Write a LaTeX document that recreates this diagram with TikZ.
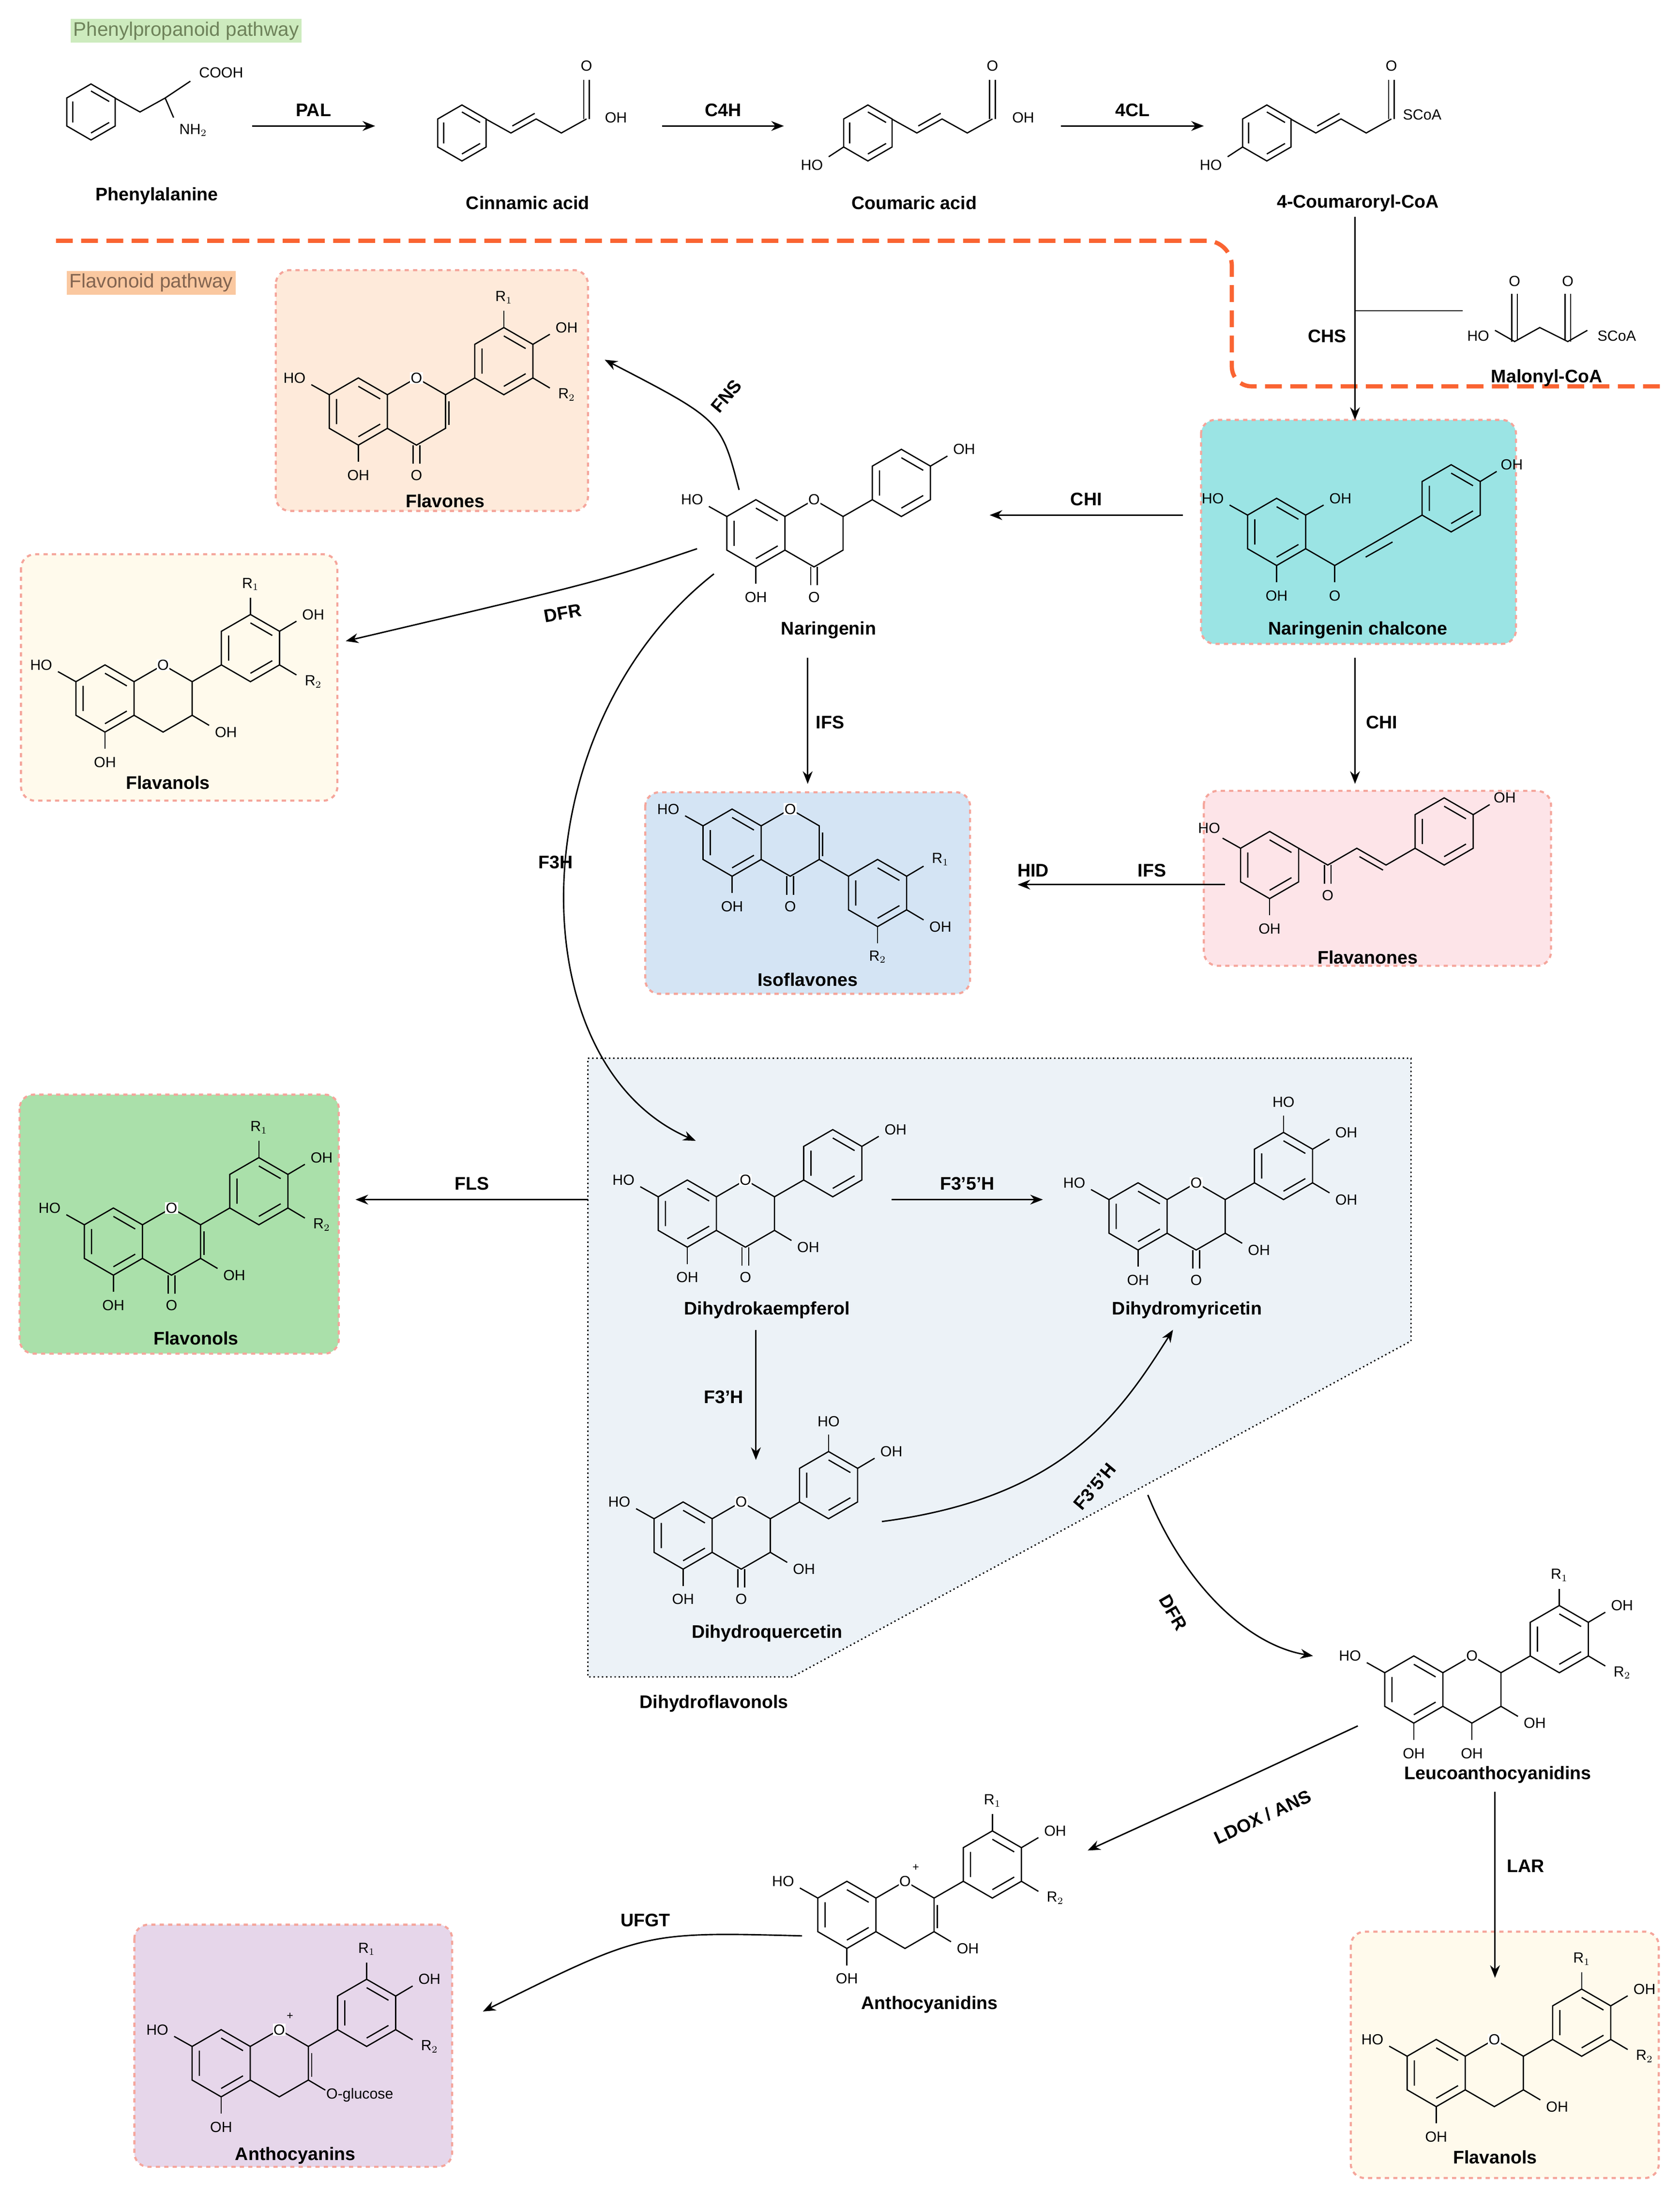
\documentclass[tikz,border=0pt]{standalone}
\usepackage{fontspec}
\setmainfont{Liberation Sans}
\usetikzlibrary{arrows.meta}
\definecolor{dorange}{RGB}{250,100,50}
\definecolor{pinkb}{RGB}{245,165,155}
\tikzset{
 bond/.style={line width=0.9pt},
 atm/.style={font=\fontsize{10.5}{12}\selectfont, inner sep=0.5pt},
 atw/.style={atm, fill=white},
 lab/.style={font=\fontsize{13}{15}\selectfont\bfseries},
 arr/.style={line width=1pt,-{Stealth[length=9pt,width=7pt]}},
 box/.style={draw=pinkb,dashed,line width=1.5pt,rounded corners=10pt},
}
\newcommand{\ring}[2]{\draw[bond] (#1,#2) ++(0,-20) -- ++(17.3,10) -- ++(0,20) -- ++(-17.3,10) -- ++(-17.3,-10) -- ++(0,-20) -- cycle;
 \draw[bond] (#1,#2) ++(0,-15) -- ++(13,7.5) ++(0,15) -- ++(-13,7.5) ++(-13,-22.5) -- ++(0,15);}
\newcommand{\subst}[4]{\draw[bond] (#1) -- (#2); \node[atm] at (#3) {#4};}
\newcommand{\flav}[3]{\begin{scope}[shift={(#1,#2)},scale=1.2]
 \ring{0}{0}\draw[bond] (17.3,-10)--(34.6,-20)--(51.9,-10)--(51.9,10)--(34.6,20)--(17.3,10);\ring{86.6}{-30}
 \draw[bond] (51.9,-10)--(69.3,-20);
 \node[atw] at (34.6,-20){O};
 \subst{-17.3,-10}{-28,-16}{-38,-20}{HO}\subst{0,20}{0,30}{0,38}{OH}
 #3\end{scope}}
\newcommand{\isoflav}[3]{\begin{scope}[shift={(#1,#2)},scale=1.2]
 \ring{0}{0}\draw[bond] (17.3,-10)--(34.6,-20)--(51.9,-10)--(51.9,10)--(34.6,20)--(17.3,10);\ring{86.6}{30}
 \draw[bond] (51.9,10)--(69.3,20);
 \node[atw] at (34.6,-20){O};
 \subst{-17.3,-10}{-28,-16}{-38,-20}{HO}\subst{0,20}{0,30}{0,38}{OH}
 #3\end{scope}}
\newcommand{\pOH}{\subst{103.9,-40}{114,-46}{124,-50}{OH}}
\newcommand{\Ra}{\subst{86.6,-50}{86.6,-60}{86.6,-68}{R$_1$}}
\newcommand{\tHO}{\subst{86.6,-50}{86.6,-60}{86.6,-68}{HO}}
\newcommand{\Rb}{\subst{103.9,-20}{114,-14}{124,-10}{R$_2$}}
\newcommand{\mOH}{\subst{103.9,-20}{114,-14}{124,-10}{OH}}
\newcommand{\ket}{\draw[bond](32.6,20)--(32.6,31)(36.6,20)--(36.6,31);\node[atm] at (34.6,38){O};}
\newcommand{\fOH}{\subst{34.6,20}{34.6,30}{34.6,38}{OH}}
\newcommand{\thr}{\subst{51.9,10}{62,16}{72,20}{OH}}
\newcommand{\plus}{\node[font=\fontsize{8}{9}\selectfont,inner sep=0pt] at (41,-28){+};}
\begin{document}
\begin{tikzpicture}[x=1pt,y=-1pt]
\useasboundingbox (0,0) rectangle (1200,1566);
\fill[fill={rgb,255:red,236;green,242;blue,247}] (420,756)--(1008,756)--(1008,958)--(566,1198)--(420,1198)--cycle;
\draw[dotted,line width=1pt] (420,756)--(1008,756)--(1008,958)--(566,1198)--(420,1198)--cycle;
\filldraw[box,fill={rgb,255:red,254;green,234;blue,218}] (197,193) rectangle (420,365);
\filldraw[box,fill={rgb,255:red,155;green,228;blue,228}] (858,300) rectangle (1083,460);
\filldraw[box,fill={rgb,255:red,255;green,250;blue,236}] (15,396) rectangle (241,572);
\filldraw[box,fill={rgb,255:red,212;green,228;blue,244}] (461,566) rectangle (693,710);
\filldraw[box,fill={rgb,255:red,253;green,228;blue,232}] (860,565) rectangle (1108,690);
\filldraw[box,fill={rgb,255:red,170;green,224;blue,170}] (14,782) rectangle (242,967);
\filldraw[box,fill={rgb,255:red,230;green,214;blue,234}] (96,1375) rectangle (323,1548);
\filldraw[box,fill={rgb,255:red,255;green,250;blue,236}] (965,1380) rectangle (1185,1556);
\node[fill={rgb,255:red,205;green,235;blue,190},font=\fontsize{14}{16}\selectfont\rmfamily,text={rgb,255:red,110;green,130;blue,90}, inner sep=2pt] (pp) at (133,22){Phenylpropanoid pathway};
\node[fill={rgb,255:red,250;green,200;blue,160},font=\fontsize{14}{16}\selectfont\rmfamily,text={rgb,255:red,130;green,100;blue,80}, inner sep=2pt] (fp) at (108,202){Flavonoid pathway};
\draw[dorange,line width=3pt,dash pattern=on 12pt off 6pt] (40,172)--(862,172) arc[start angle=-90,end angle=0,radius=18] -- (880,262) arc[start angle=180,end angle=90,radius=14]--(1190,276);
\ring{65}{80}\draw[bond](82,70)--(100,80)--(118,70);\draw[bond](118,70)--(136,58);\node[atm] at (158,52){COOH};\draw[bond](118,70)--(124,84);\node[atm] at (138,93){NH$_2$};
\node[lab] (phe) at (112,140){Phenylalanine};
\ring{330}{95}\draw[bond](347,85)--(365,95)--(383,85)--(401,95)--(419,85);\draw[bond](366,90)--(382,81);\draw[bond](417,85)--(417,57)(421,85)--(421,57);\node[atm] at (419,47){O};\node[atm] at (440,84){OH};
\node[lab] (cin) at (377,145){Cinnamic acid};
\ring{620}{95}\draw[bond](637,85)--(655,95)--(673,85)--(691,95)--(709,85);\draw[bond](656,90)--(672,81);\draw[bond](707,85)--(707,57)(711,85)--(711,57);\node[atm] at (709,47){O};\node[atm] at (731,84){OH};\draw[bond](602.7,105)--(592,112);\node[atm] at (580,118){HO};
\node[lab] (cou) at (653,145){Coumaric acid};
\ring{905}{95}\draw[bond](922,85)--(940,95)--(958,85)--(976,95)--(994,85);\draw[bond](941,90)--(957,81);\draw[bond](992,85)--(992,57)(996,85)--(996,57);\node[atm] at (994,47){O};\node[atm] at (1016,82){SCoA};\draw[bond](887.7,105)--(877,112);\node[atm] at (865,118){HO};
\node[lab] (cca) at (970,145){4-Coumaroryl-CoA};
\node[atm] at (1056,240){HO};\draw[bond](1068,236)--(1082,244)--(1100,234)--(1120,244)--(1134,236);
\draw[bond](1080,244)--(1080,210)(1084,243)--(1084,210);\draw[bond](1118,243)--(1118,210)(1122,244)--(1122,210);
\node[atm] at (1082,201){O};\node[atm] at (1120,201){O};\node[atm] at (1155,240){SCoA};
\node[lab] (mal) at (1105,270){Malonyl-CoA};
\draw[arr](180,90)--(268,90) node[lab,midway,above=3pt]{PAL};
\draw[arr](473,90)--(560,90) node[lab,midway,above=3pt]{C4H};
\draw[arr](758,90)--(860,90) node[lab,midway,above=3pt]{4CL};
\draw[arr](968,155)--(968,300);\draw[line width=1pt](968,222)--(1045,222);\node[lab] at (948,240){CHS};
\flav{256}{294}{\ket\Ra\pOH\Rb\draw[bond](53.9,-6)--(53.9,8);}
\node[lab] (flv) at (318,358){Flavones};
\flav{540}{381}{\ket\pOH}
\node[lab] (nar) at (592,450){Naringenin};
\begin{scope}[shift={(912,380)},scale=1.2]\ring{0}{0}
\subst{-17.3,-10}{-28,-16}{-38,-20}{HO}\subst{0,20}{0,30}{0,38}{OH}\subst{17.3,-10}{28,-16}{38,-20}{OH}
\draw[bond](17.3,10)--(34.6,20)--(51.9,10)--(69.3,0)--(86.6,-10);\draw[bond](53,15)--(69,6);\subst{34.6,20}{34.6,30}{34.6,38}{O}
\ring{103.9}{-20}\subst{121.2,-30}{131,-36}{140,-40}{OH}\end{scope}
\node[lab] (nch) at (970,450){Naringenin chalcone};
\flav{75}{499}{\thr\Ra\pOH\Rb}
\node[lab] (fl1) at (120,559){Flavanols};
\isoflav{523}{602}{\ket\subst{103.9,20}{114,14}{124,10}{R$_1$}\subst{103.9,40}{114,46}{124,50}{OH}\subst{86.6,50}{86.6,60}{86.6,68}{R$_2$}\draw[bond](53.9,-6)--(53.9,8);}
\node[lab] (iso) at (577,700){Isoflavones};
\begin{scope}[shift={(907,618)},scale=1.2]\ring{0}{0}
\subst{-17.3,-10}{-28,-16}{-36,-22}{HO}\subst{0,20}{0,30}{0,38}{OH}
\draw[bond](17.3,-10)--(34.6,0)--(51.9,-10)--(69.3,0)--(86.6,-10);\draw[bond](53.5,-5)--(67.5,3);\draw[bond](32.6,0)--(32.6,11)(36.6,0)--(36.6,11);\node[atm] at (34.6,18){O};
\ring{103.9}{-20}\subst{121.2,-30}{131,-36}{140,-40}{OH}\end{scope}
\node[lab] (fnn) at (977,684){Flavanones};
\flav{81}{887}{\ket\thr\Ra\pOH\Rb\draw[bond](53.9,-6)--(53.9,8);}
\node[lab] (fls) at (140,956){Flavonols};
\flav{491}{867}{\ket\thr\pOH}
\node[lab] (dhk) at (548,936){Dihydrokaempferol};
\flav{813}{869}{\ket\thr\tHO\pOH\mOH}
\node[lab] (dhm) at (848,936){Dihydromyricetin};
\flav{488}{1097}{\ket\thr\tHO\pOH}
\node[lab] (dhq) at (548,1167){Dihydroquercetin};
\node[lab] (dhf) at (510,1217){Dihydroflavonols};
\flav{1010}{1207}{\fOH\thr\Ra\pOH\Rb}
\node[lab] (leu) at (1070,1268){Leucoanthocyanidins};
\flav{605}{1368}{\plus\thr\Ra\pOH\Rb\draw[bond](53.9,-6)--(53.9,8);}
\node[lab] (acy) at (664,1432){Anthocyanidins};
\flav{158}{1474}{\plus\draw[bond](51.9,10)--(62,16);\node[atm,anchor=west] at (62,19){O-glucose};\Ra\pOH\Rb\draw[bond](53.9,-6)--(53.9,8);}
\node[lab] (ans) at (211,1540){Anthocyanins};
\flav{1026}{1481}{\thr\Ra\pOH\Rb}
\node[lab] (fl2) at (1068,1541){Flavanols};
\draw[arr](845,368)--(707,368) node[lab,midway,above=3pt]{CHI};
\draw[arr](528,350) .. controls (515,300) .. (432,257);\node[lab,rotate=50] at (519,283){FNS};
\draw[arr](498,392) .. controls (430,415) .. (247,458);\node[lab,rotate=10] at (402,438){DFR};
\draw[arr](577,470)--(577,560);\node[lab] at (593,516){IFS};
\draw[arr](510,410) .. controls (370,520) and (370,760) .. (497,815);\node[lab] at (397,616){F3H};
\draw[arr](968,470)--(968,560);\node[lab] at (987,516){CHI};
\draw[arr](875,632)--(727,632);\node[lab] at (823,622){IFS};\node[lab] at (738,622){HID};
\draw[arr](420,857)--(254,857) node[lab,midway,above=3pt]{FLS};
\draw[arr](637,857)--(745,857) node[lab,midway,above=3pt]{F3'5'H};
\draw[arr](540,950)--(540,1043);\node[lab] at (517,998){F3'H};
\draw[arr](630,1087) .. controls (760,1070) and (800,1010) .. (838,950);\node[lab,rotate=50] at (782,1062){F3'5'H};
\draw[arr](820,1068) .. controls (845,1130) and (890,1175) .. (938,1183);\node[lab,rotate=-60] at (838,1152){DFR};
\draw[arr](970,1233) .. controls (880,1275) .. (777,1322);\node[lab,rotate=25] at (902,1298){LDOX / ANS};
\draw[arr](1068,1280)--(1068,1413);\node[lab] at (1090,1333){LAR};
\draw[arr](573,1383) .. controls (460,1380) .. (345,1437);\node[lab] at (461,1372){UFGT};
\end{tikzpicture}
\end{document}
